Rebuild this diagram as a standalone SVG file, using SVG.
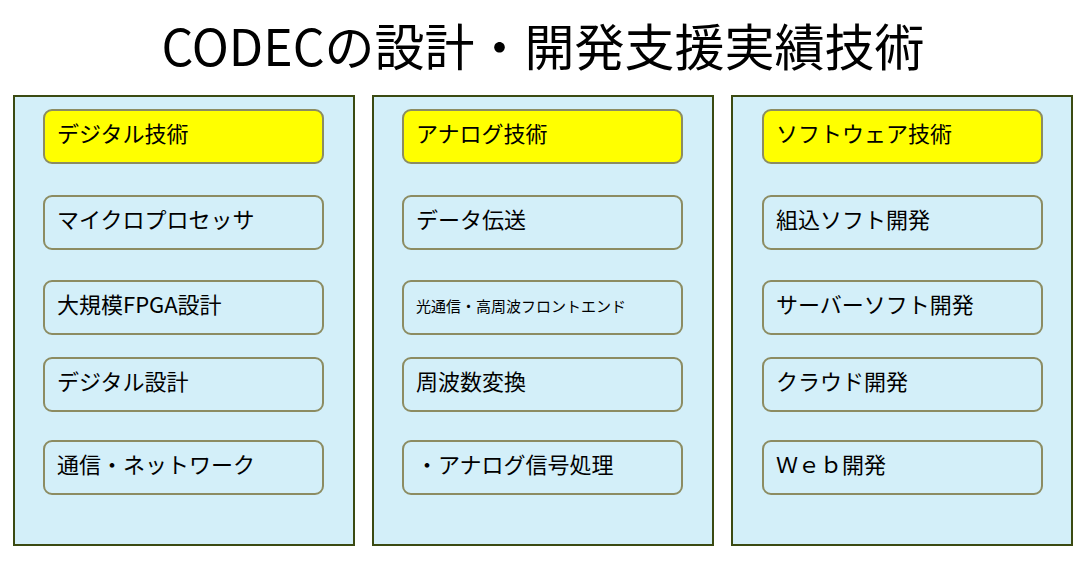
<svg xmlns="http://www.w3.org/2000/svg" width="1087" height="577" viewBox="0 0 1087 577">
<style>
.col{fill:#d3eff9;stroke:#3b4a12;stroke-width:2}
.b{fill:#d3eff9;stroke:#8c8c62;stroke-width:2}
.h{fill:#ffff00;stroke:#8c8c62;stroke-width:2}
text{font-family:"Noto Sans CJK JP","Noto Sans",sans-serif;fill:#000}
.t{font-size:22px}
.s{font-size:15px}
.title{font-size:50px}
</style>
<rect width="1087" height="577" fill="#fff"/>
<text class="title" x="543" y="66" text-anchor="middle">CODECの設計・開発支援実績技術</text>
<g id="col1"><rect class="col" x="14" y="96" width="340" height="449"/></g>
<g id="col2"><rect class="col" x="373" y="96" width="340" height="449"/></g>
<g id="col3"><rect class="col" x="732" y="96" width="340" height="449"/></g>
<g id="n1"><rect class="h" x="44" y="110" width="279" height="53" rx="8"/><text class="t" x="57" y="142">デジタル技術</text></g>
<g id="n2"><rect class="b" x="44" y="196" width="279" height="53" rx="8"/><text class="t" x="57" y="228">マイクロプロセッサ</text></g>
<g id="n3"><rect class="b" x="44" y="281" width="279" height="53" rx="8"/><text class="t" x="57" y="313">大規模FPGA設計</text></g>
<g id="n4"><rect class="b" x="44" y="358" width="279" height="53" rx="8"/><text class="t" x="57" y="390">デジタル設計</text></g>
<g id="n5"><rect class="b" x="44" y="441" width="279" height="53" rx="8"/><text class="t" x="57" y="473">通信・ネットワーク</text></g>
<g id="n6"><rect class="h" x="403" y="110" width="279" height="53" rx="8"/><text class="t" x="416" y="142">アナログ技術</text></g>
<g id="n7"><rect class="b" x="403" y="196" width="279" height="53" rx="8"/><text class="t" x="416" y="228">データ伝送</text></g>
<g id="n8"><rect class="b" x="403" y="281" width="279" height="53" rx="8"/><text class="s" x="416" y="312">光通信・高周波フロントエンド</text></g>
<g id="n9"><rect class="b" x="403" y="358" width="279" height="53" rx="8"/><text class="t" x="416" y="390">周波数変換</text></g>
<g id="n10"><rect class="b" x="403" y="441" width="279" height="53" rx="8"/><text class="t" x="416" y="473">・アナログ信号処理</text></g>
<g id="n11"><rect class="h" x="763" y="110" width="279" height="53" rx="8"/><text class="t" x="776" y="142">ソフトウェア技術</text></g>
<g id="n12"><rect class="b" x="763" y="196" width="279" height="53" rx="8"/><text class="t" x="776" y="228">組込ソフト開発</text></g>
<g id="n13"><rect class="b" x="763" y="281" width="279" height="53" rx="8"/><text class="t" x="776" y="313">サーバーソフト開発</text></g>
<g id="n14"><rect class="b" x="763" y="358" width="279" height="53" rx="8"/><text class="t" x="776" y="390">クラウド開発</text></g>
<g id="n15"><rect class="b" x="763" y="441" width="279" height="53" rx="8"/><text class="t" x="776" y="473">Ｗｅｂ開発</text></g>
<g id="connectors"/>
</svg>
